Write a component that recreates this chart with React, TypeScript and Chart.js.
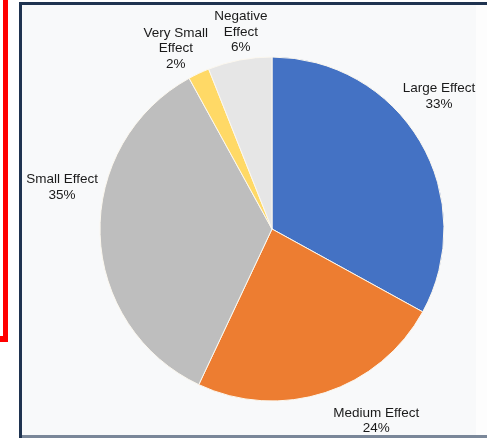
import React, { useEffect, useRef } from "react";
import { Chart, registerables } from "chart.js";

Chart.register(...registerables);

// Effect-size categories and their shares (percent)
const categories = [
  "Large Effect",
  "Medium Effect",
  "Small Effect",
  "Very Small Effect",
  "Negative Effect",
];
const shares = [33, 24, 35, 2, 6];
const sliceColors = ["#4472C4", "#ED7D31", "#BEBEBE", "#FFD966", "#E6E6E6"];

// How each label is broken into lines
const labelLines = [
  ["Large Effect"],
  ["Medium Effect"],
  ["Small Effect"],
  ["Very Small", "Effect"],
  ["Negative", "Effect"],
];

// Label placement: offset from the slice's outer mid-point, in px
const labelOffsets = [
  [19, -45],
  [51, 28],
  [-38, -47],
  [-23, -25],
  [1, -28],
];

const W = 487;
const H = 438;

const sliceLabels = {
  id: "sliceLabels",
  afterDatasetsDraw(chart: any) {
    const ctx = chart.ctx;
    const meta = chart.getDatasetMeta(0);
    const data = chart.data.datasets[0].data as number[];
    ctx.save();
    ctx.fillStyle = "#1a1a1a";
    ctx.font = '13.5px "Liberation Sans", Arial, sans-serif';
    ctx.textAlign = "center";
    ctx.textBaseline = "middle";
    const lh = 15.5;
    meta.data.forEach((arc: any, i: number) => {
      const { x, y, startAngle, endAngle, outerRadius } = arc.getProps(
        ["x", "y", "startAngle", "endAngle", "outerRadius"],
        true
      );
      const mid = (startAngle + endAngle) / 2;
      const ax = x + Math.cos(mid) * outerRadius + labelOffsets[i][0];
      const ay = y + Math.sin(mid) * outerRadius + labelOffsets[i][1];
      const lines = [...labelLines[i], `${data[i]}%`];
      const top = ay - ((lines.length - 1) * lh) / 2;
      lines.forEach((t, k) => ctx.fillText(t, ax, top + k * lh));
    });
    ctx.restore();
  },
};

export default function App() {
  const ref = useRef<HTMLCanvasElement>(null);

  useEffect(() => {
    if (!ref.current) return;
    const chart = new Chart(ref.current, {
      type: "pie",
      data: {
        labels: categories,
        datasets: [
          {
            data: shares,
            backgroundColor: sliceColors,
            borderColor: "#FBF7EE",
            borderWidth: 1,
          },
        ],
      },
      options: {
        responsive: false,
        animation: false,
        radius: 172,
        layout: { padding: { left: 100, right: 43, top: 57, bottom: 37 } },
        plugins: {
          legend: { display: false },
          tooltip: { enabled: false },
        },
      } as any,
      plugins: [sliceLabels],
    });
    return () => chart.destroy();
  }, []);

  return (
    <div
      style={{
        position: "fixed",
        left: 0,
        top: 0,
        width: W,
        height: H,
        background: "#ffffff",
        overflow: "hidden",
      }}
    >
      {/* red bracket on the left */}
      <div
        style={{
          position: "absolute",
          left: 3,
          top: 0,
          width: 5,
          height: 342,
          background: "#ff0000",
        }}
      />
      <div
        style={{
          position: "absolute",
          left: 0,
          top: 336,
          width: 8,
          height: 6,
          background: "#ff0000",
        }}
      />
      {/* framed panel */}
      <div
        style={{
          position: "absolute",
          left: 19,
          top: 2,
          width: 480,
          height: 436,
          boxSizing: "border-box",
          borderLeft: "3px solid #1F3350",
          borderTop: "3px solid #1F3350",
          background: "#F8F9FA",
        }}
      />
      <div
        style={{
          position: "absolute",
          left: 476,
          top: 5,
          width: 11,
          height: 430,
          background: "#FDFDFD",
        }}
      />
      <div
        style={{
          position: "absolute",
          left: 22,
          top: 435,
          width: 465,
          height: 3,
          background: "#7A8799",
        }}
      />
      <canvas
        ref={ref}
        width={W}
        height={H}
        style={{ position: "absolute", left: 0, top: 0, width: W, height: H }}
      />
    </div>
  );
}
